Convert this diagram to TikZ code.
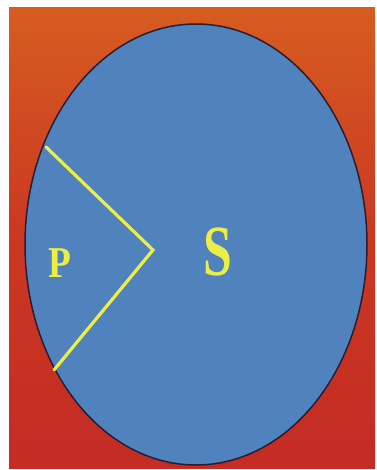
\documentclass[tikz,border=0pt]{standalone}
\usepackage{fontspec}
\usetikzlibrary{shapes.geometric}
\setmainfont{Liberation Serif}
\definecolor{bgtop}{RGB}{214,92,32}
\definecolor{bgmid}{RGB}{202,56,34}
\definecolor{bgbot}{RGB}{196,44,36}
\definecolor{blobblue}{RGB}{80,130,190}
\definecolor{lineyellow}{RGB}{236,238,70}
\definecolor{rimdark}{RGB}{40,30,50}
\tikzset{
  yline/.style={draw=lineyellow, line width=3.2pt, line cap=round},
  lbl/.style={text=lineyellow, font=\bfseries, inner sep=0pt}
}
\begin{document}
\begin{tikzpicture}[x=1pt,y=-1pt]
\useasboundingbox (0,0) rectangle (376,470);
\fill[white] (0,0) rectangle (376,470);
\shade[top color=bgtop, bottom color=bgbot, middle color=bgmid] (9,8) rectangle (375,468);
\node[ellipse, draw=rimdark, line width=1.5pt, fill=blobblue, minimum width=342pt, minimum height=441pt, inner sep=0pt] (blob) at (196,244.5) {};
\coordinate (a) at (46,147);
\coordinate (v) at (153,250);
\coordinate (b) at (54,370);
\draw[yline] (a) -- (v) -- (b);
\node[lbl] (p) at (60,263) {\scalebox{0.85}[1]{\fontsize{44}{44}\selectfont P}};
\node[lbl] (s) at (218,252) {\scalebox{0.72}[1]{\fontsize{72}{72}\selectfont S}};
\end{tikzpicture}
\end{document}
